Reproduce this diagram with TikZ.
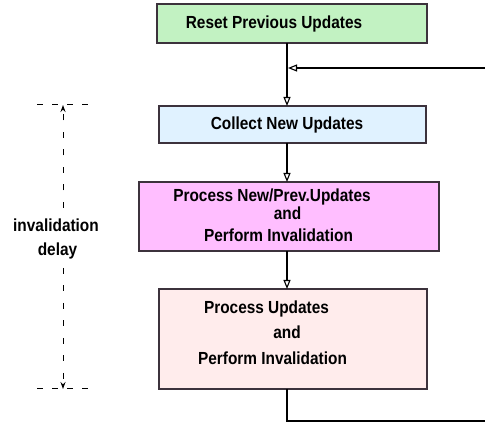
\documentclass[tikz,border=0pt]{standalone}
\usepackage{fontspec}
\setmainfont{Liberation Sans}
\usetikzlibrary{arrows.meta}
\definecolor{boxgreen}{RGB}{194,242,194}
\definecolor{boxblue}{RGB}{224,242,255}
\definecolor{boxmag}{RGB}{255,190,255}
\definecolor{boxpink}{RGB}{255,236,236}
\definecolor{edgec}{RGB}{60,50,60}
\newcommand{\narrowtxt}[1]{\scalebox{0.88}[1]{#1}}
\begin{document}
\begin{tikzpicture}[x=1pt,y=-1pt,
  box/.style={draw=edgec,line width=1.2pt,rectangle,inner sep=0pt,outer sep=0pt,anchor=north west},
  lbl/.style={font=\fontsize{17.5}{20}\selectfont\bfseries,inner sep=0pt,anchor=base},
  flow/.style={line width=1.1pt,-{Triangle[open,length=9pt,width=7pt]}},
  flowline/.style={line width=1.1pt},
  delayh/.style={line width=1pt,dash pattern=on 6pt off 9pt},
  delayarr/.style={line width=1pt,dash pattern=on 6pt off 11.5pt,-{Stealth[length=7pt,width=5pt]}}]
\useasboundingbox (0,0) rectangle (485,427);
\fill[white] (0,0) rectangle (485,427);
% boxes
\node[box,fill=boxgreen,minimum width=270pt,minimum height=39pt] (b1) at (157,4) {};
\node[box,fill=boxblue,minimum width=267pt,minimum height=37pt] (b2) at (159,106) {};
\node[box,fill=boxmag,minimum width=300pt,minimum height=69pt] (b3) at (139,182) {};
\node[box,fill=boxpink,minimum width=268pt,minimum height=100pt] (b4) at (159,289) {};
% texts
\node[lbl] (t1) at (274,29) {\narrowtxt{Reset Previous Updates}};
\node[lbl] (t2) at (287,130) {\narrowtxt{Collect New Updates}};
\node[lbl] (t3a) at (272,202) {\narrowtxt{Process New/Prev.Updates}};
\node[lbl] (t3b) at (287.5,220) {\narrowtxt{and}};
\node[lbl] (t3c) at (278.5,242) {\narrowtxt{Perform Invalidation}};
\node[lbl] (t4a) at (266.5,314) {\narrowtxt{Process Updates}};
\node[lbl] (t4b) at (287,339) {\narrowtxt{and}};
\node[lbl] (t4c) at (272.5,365) {\narrowtxt{Perform Invalidation}};
\node[lbl] (d1) at (56,232) {\narrowtxt{invalidation}};
\node[lbl] (d2) at (57.5,256) {\narrowtxt{delay}};
% axis coordinates
\coordinate (ax) at (287,0);
\coordinate (j) at (288,68);
\coordinate (rin) at (485,68);
\coordinate (rout) at (485,421);
% flow connectors
\draw[flow] (b1.south -| ax) -- (b2.north -| ax);
\draw[flow] (b2.south -| ax) -- (b3.north -| ax);
\draw[flow] (b3.south -| ax) -- (b4.north -| ax);
\draw[flow] (rin) -- (j);
\draw[flowline] (b4.south -| ax) |- (rout);
% delay markers
\coordinate (ht1) at (37,105);
\coordinate (ht2) at (90,105);
\coordinate (hb1) at (37,389);
\coordinate (hb2) at (90,389);
\coordinate (vt) at (63,105);
\coordinate (vb) at (63,389);
\coordinate (vm1) at (63,208);
\coordinate (vm2) at (63,268);
\draw[delayh] (ht1) -- (ht2);
\draw[delayh] (hb1) -- (hb2);
\draw[delayarr] (vm1) -- (vt);
\draw[delayarr] (vm2) -- (vb);
\end{tikzpicture}
\end{document}
